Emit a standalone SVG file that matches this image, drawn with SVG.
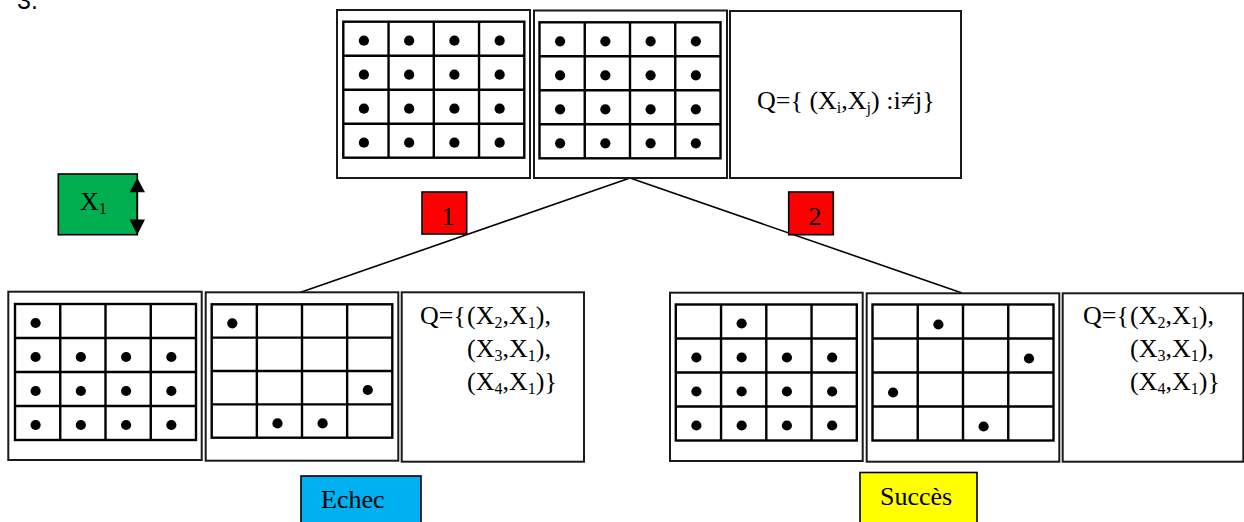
<svg xmlns="http://www.w3.org/2000/svg" xmlns:xlink="http://www.w3.org/1999/xlink" width="1244" height="522" viewBox="0 0 1244 522">
  <style>
    .frame { fill: #ffffff; stroke: #1a1a1a; stroke-width: 2; }
    .grid { fill: none; stroke: #000000; stroke-width: 2.4; }
    .dot { fill: #000000; }
    .edge { fill: none; stroke: #000000; stroke-width: 1.6; }
    .tx { font-family: "Liberation Serif", "Times New Roman", serif; font-size: 26px; fill: #000000; }
    .sub { font-size: 16px; }
    .tag { stroke: #000000; stroke-width: 1.6; }
    .num { font-family: "Liberation Sans", Arial, sans-serif; font-size: 25px; fill: #000000; }
  </style>
  <defs>
    <!-- 4x4 board: 181 x 136, cells 45.25 x 34 -->
    <g id="board">
      <rect x="0" y="0" width="181" height="136" class="grid"/>
      <path class="grid" d="M45.25 0V136M90.5 0V136M135.75 0V136M0 34H181M0 68H181M0 102H181"/>
    </g>
    <circle id="q" r="5.1" cx="0" cy="0" class="dot"/>
  </defs>

  <rect width="1244" height="522" fill="#ffffff"/>

  <text class="num" x="17" y="9">3.</text>

  <!-- connectors (drawn under the step tags) -->
  <g id="connectors">
    <line class="edge" x1="630" y1="178" x2="300" y2="292.5"/>
    <line class="edge" x1="630" y1="178" x2="962" y2="293"/>
  </g>

  <!-- top row: initial domains -->
  <g id="stateTop1">
    <rect class="frame" x="337" y="10" width="193" height="168"/>
    <use xlink:href="#board" x="343.3" y="21.7"/>
    <g transform="translate(363.9,40.7)">
      <use xlink:href="#q" x="0" y="0"/><use xlink:href="#q" x="45.25" y="0"/><use xlink:href="#q" x="90.5" y="0"/><use xlink:href="#q" x="135.75" y="0"/>
      <use xlink:href="#q" x="0" y="34"/><use xlink:href="#q" x="45.25" y="34"/><use xlink:href="#q" x="90.5" y="34"/><use xlink:href="#q" x="135.75" y="34"/>
      <use xlink:href="#q" x="0" y="68"/><use xlink:href="#q" x="45.25" y="68"/><use xlink:href="#q" x="90.5" y="68"/><use xlink:href="#q" x="135.75" y="68"/>
      <use xlink:href="#q" x="0" y="102"/><use xlink:href="#q" x="45.25" y="102"/><use xlink:href="#q" x="90.5" y="102"/><use xlink:href="#q" x="135.75" y="102"/>
    </g>
  </g>

  <g id="stateTop2">
    <rect class="frame" x="534" y="10.5" width="193" height="167.5"/>
    <use xlink:href="#board" x="539.5" y="22.3"/>
    <g transform="translate(560.1,41.3)">
      <use xlink:href="#q" x="0" y="0"/><use xlink:href="#q" x="45.25" y="0"/><use xlink:href="#q" x="90.5" y="0"/><use xlink:href="#q" x="135.75" y="0"/>
      <use xlink:href="#q" x="0" y="34"/><use xlink:href="#q" x="45.25" y="34"/><use xlink:href="#q" x="90.5" y="34"/><use xlink:href="#q" x="135.75" y="34"/>
      <use xlink:href="#q" x="0" y="68"/><use xlink:href="#q" x="45.25" y="68"/><use xlink:href="#q" x="90.5" y="68"/><use xlink:href="#q" x="135.75" y="68"/>
      <use xlink:href="#q" x="0" y="102"/><use xlink:href="#q" x="45.25" y="102"/><use xlink:href="#q" x="90.5" y="102"/><use xlink:href="#q" x="135.75" y="102"/>
    </g>
  </g>

  <g id="queueTop">
    <rect class="frame" x="730" y="11" width="231" height="167"/>
    <text class="tx" x="757" y="109">Q={ (X<tspan class="sub" dy="4">i</tspan><tspan dy="-4">,X</tspan><tspan class="sub" dy="4">j</tspan><tspan dy="-4">) :i≠j}</tspan></text>
  </g>

  <!-- variable legend -->
  <g id="legendX1">
    <rect x="58.3" y="174" width="79" height="60.7" fill="#00b050" stroke="#000000" stroke-width="1.6"/>
    <text class="tx" x="80" y="210">X<tspan class="sub" dy="4">1</tspan></text>
    <line x1="137.3" y1="180" x2="137.3" y2="232" stroke="#000000" stroke-width="1.6"/>
    <path d="M137.3 178L145 192.3H129.6Z M137.3 234.7L145 219.5H129.6Z" fill="#000000"/>
  </g>

  <!-- branch tags -->
  <g id="step1">
    <rect class="tag" x="422" y="192" width="44.7" height="42" fill="#ff0000"/>
    <text class="tx" x="448" y="225" text-anchor="middle" font-size="24">1</text>
  </g>
  <g id="step2">
    <rect class="tag" x="788.7" y="192" width="44.6" height="42.7" fill="#ff0000"/>
    <text class="tx" x="815" y="225" text-anchor="middle" font-size="24">2</text>
  </g>

  <!-- left branch -->
  <g id="stateA">
    <rect class="frame" x="8.3" y="291.7" width="193.4" height="168.3"/>
    <use xlink:href="#board" x="15" y="304"/>
    <g transform="translate(35.6,323)">
      <use xlink:href="#q" x="0" y="0"/>
      <use xlink:href="#q" x="0" y="34"/><use xlink:href="#q" x="45.25" y="34"/><use xlink:href="#q" x="90.5" y="34"/><use xlink:href="#q" x="135.75" y="34"/>
      <use xlink:href="#q" x="0" y="68"/><use xlink:href="#q" x="45.25" y="68"/><use xlink:href="#q" x="90.5" y="68"/><use xlink:href="#q" x="135.75" y="68"/>
      <use xlink:href="#q" x="0" y="102"/><use xlink:href="#q" x="45.25" y="102"/><use xlink:href="#q" x="90.5" y="102"/><use xlink:href="#q" x="135.75" y="102"/>
    </g>
  </g>

  <g id="stateB">
    <rect class="frame" x="205.7" y="292.3" width="192.6" height="168.4"/>
    <rect class="grid" x="211.7" y="304.3" width="180.6" height="133.4"/>
    <path class="grid" d="M256.85 304.3V437.7M302 304.3V437.7M347.15 304.3V437.7M211.7 337.65H392.3M211.7 371H392.3M211.7 404.35H392.3"/>
    <use xlink:href="#q" x="232.3" y="323.3"/>
    <use xlink:href="#q" x="367.8" y="390"/>
    <use xlink:href="#q" x="277.5" y="423.4"/>
    <use xlink:href="#q" x="322.6" y="423.4"/>
  </g>

  <g id="queueB">
    <rect class="frame" x="401.7" y="292.3" width="182.3" height="169.4"/>
    <text class="tx" x="420" y="324">Q={</text>
    <text class="tx" x="467" y="324">(X<tspan class="sub" dy="4">2</tspan><tspan dy="-4">,X</tspan><tspan class="sub" dy="4">1</tspan><tspan dy="-4">),</tspan></text>
    <text class="tx" x="467" y="357">(X<tspan class="sub" dy="4">3</tspan><tspan dy="-4">,X</tspan><tspan class="sub" dy="4">1</tspan><tspan dy="-4">),</tspan></text>
    <text class="tx" x="467" y="390">(X<tspan class="sub" dy="4">4</tspan><tspan dy="-4">,X</tspan><tspan class="sub" dy="4">1</tspan><tspan dy="-4">)}</tspan></text>
  </g>

  <!-- right branch -->
  <g id="stateC">
    <rect class="frame" x="670" y="292.7" width="192.7" height="168.3"/>
    <use xlink:href="#board" x="675.8" y="304.5"/>
    <g transform="translate(696.4,323.5)">
      <use xlink:href="#q" x="45.25" y="0"/>
      <use xlink:href="#q" x="0" y="34"/><use xlink:href="#q" x="45.25" y="34"/><use xlink:href="#q" x="90.5" y="34"/><use xlink:href="#q" x="135.75" y="34"/>
      <use xlink:href="#q" x="0" y="68"/><use xlink:href="#q" x="45.25" y="68"/><use xlink:href="#q" x="90.5" y="68"/><use xlink:href="#q" x="135.75" y="68"/>
      <use xlink:href="#q" x="0" y="102"/><use xlink:href="#q" x="45.25" y="102"/><use xlink:href="#q" x="90.5" y="102"/><use xlink:href="#q" x="135.75" y="102"/>
    </g>
  </g>

  <g id="stateD">
    <rect class="frame" x="866.7" y="293.3" width="192.6" height="168.4"/>
    <use xlink:href="#board" x="872.5" y="304.5"/>
    <use xlink:href="#q" x="938.4" y="324.5"/>
    <use xlink:href="#q" x="1029" y="358.5"/>
    <use xlink:href="#q" x="893.1" y="392.5"/>
    <use xlink:href="#q" x="983.6" y="426.5"/>
  </g>

  <g id="queueD">
    <rect class="frame" x="1062.7" y="293.3" width="180.6" height="168.4"/>
    <text class="tx" x="1083" y="324">Q={</text>
    <text class="tx" x="1130" y="324">(X<tspan class="sub" dy="4">2</tspan><tspan dy="-4">,X</tspan><tspan class="sub" dy="4">1</tspan><tspan dy="-4">),</tspan></text>
    <text class="tx" x="1130" y="357">(X<tspan class="sub" dy="4">3</tspan><tspan dy="-4">,X</tspan><tspan class="sub" dy="4">1</tspan><tspan dy="-4">),</tspan></text>
    <text class="tx" x="1130" y="390">(X<tspan class="sub" dy="4">4</tspan><tspan dy="-4">,X</tspan><tspan class="sub" dy="4">1</tspan><tspan dy="-4">)}</tspan></text>
  </g>

  <!-- outcome labels -->
  <g id="labelEchec">
    <rect class="tag" x="301" y="476" width="120" height="52" fill="#00b0f0"/>
    <text class="tx" x="321" y="508" font-size="24">Echec</text>
  </g>
  <g id="labelSucces">
    <rect class="tag" x="860" y="472.5" width="117" height="56" fill="#ffff00"/>
    <text class="tx" x="880" y="505" font-size="24">Succès</text>
  </g>
</svg>
